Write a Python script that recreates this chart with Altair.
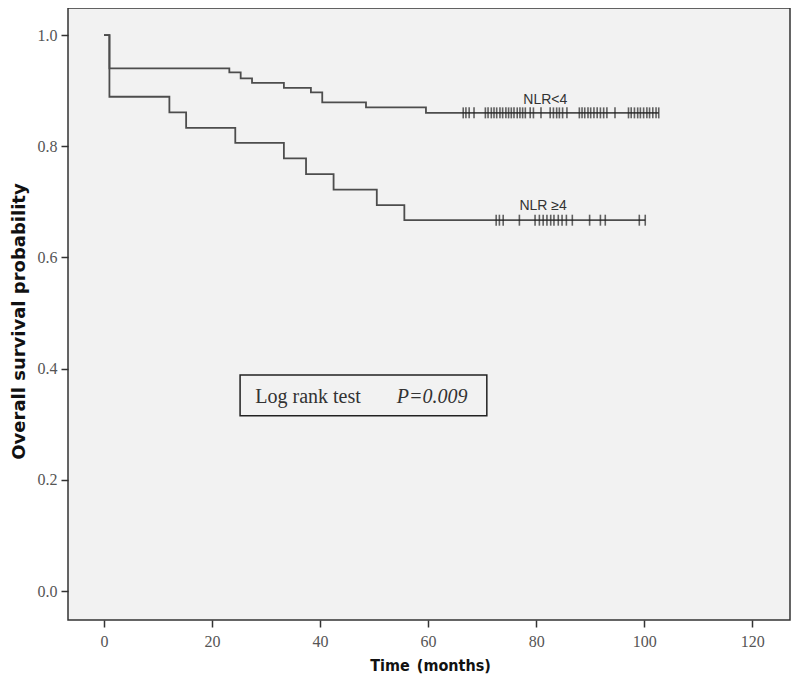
import altair as alt
import numpy as np
import pandas as pd

# ---- data ----
low_times = [0, 1, 23.2, 25.3, 27.4, 33.3, 38.3, 40.4, 48.5, 59.6]
low_surv = [1.0, 0.940, 0.933, 0.922, 0.914, 0.905, 0.897, 0.879, 0.870, 0.860]
low_censor = [66.5, 67.0, 67.6, 68.5, 70.6, 71.1, 71.7, 72.2, 72.7, 73.3, 73.8,
              74.4, 74.9, 75.4, 75.9, 76.5, 77.0, 77.5, 78.0, 78.9, 79.5, 80.9,
              82.6, 83.2, 83.8, 84.3, 84.9, 85.7, 88.0, 88.5, 89.0, 89.6, 90.1,
              90.7, 91.3, 91.9, 92.5, 93.1, 94.6, 97.1, 97.6, 98.2, 98.8, 99.3,
              99.9, 100.5, 101.0, 101.6, 102.2, 102.7]

high_times = [0, 1, 12.1, 15.2, 24.3, 33.3, 37.4, 42.5, 50.5, 55.6]
high_surv = [1.0, 0.889, 0.861, 0.833, 0.806, 0.778, 0.750, 0.722, 0.694, 0.667]
high_censor = [72.6, 73.2, 73.9, 76.9, 79.8, 80.6, 81.3, 82.0, 82.7, 83.3,
               84.1, 84.8, 85.6, 86.7, 89.9, 91.9, 92.8, 99.1, 100.2]

group_names = ["NLR<4", "NLR ≥4"]
label_x = [81.7, 81.3]
label_y = [0.884, 0.692]

x_ticks = [0, 20, 40, 60, 80, 100, 120]
y_ticks = [0.0, 0.2, 0.4, 0.6, 0.8, 1.0]

box_text = ["Log rank test", "P=0.009"]


def step_frame(times, surv, censor, name):
    t = list(times) + [max(censor)]
    s = list(surv) + [surv[-1]]
    return pd.DataFrame({"time": t, "surv": s, "group": name})


def censor_frame(times, surv, censor, name):
    idx = np.searchsorted(np.array(times), np.array(censor), side="right") - 1
    return pd.DataFrame({"time": censor, "surv": [surv[i] for i in idx], "group": name})


steps = pd.concat([
    step_frame(low_times, low_surv, low_censor, group_names[0]),
    step_frame(high_times, high_surv, high_censor, group_names[1]),
])
censors = pd.concat([
    censor_frame(low_times, low_surv, low_censor, group_names[0]),
    censor_frame(high_times, high_surv, high_censor, group_names[1]),
])
labels = pd.DataFrame({"time": label_x, "surv": label_y, "text": group_names})

x_scale = alt.Scale(domain=[-6.67, 127.0], nice=False, zero=False)
y_scale = alt.Scale(domain=[-0.052, 1.0486], nice=False, zero=False)

x_axis = alt.Axis(values=x_ticks, format="d", domain=False, grid=False,
                  tickSize=7, tickWidth=1.5, tickColor="#333",
                  labelFont="Liberation Sans Narrow", labelFontSize=16,
                  labelColor="#555", labelPadding=6,
                  titleFont="DejaVu Sans Condensed", titleFontSize=16,
                  titleFontWeight="bold", titleColor="#111",
                  titleX=362, titleY=45, titleBaseline="middle")
y_axis = alt.Axis(values=y_ticks, format=".1f", domain=False, grid=False,
                  tickSize=7, tickWidth=1.5, tickColor="#333",
                  labelFont="Liberation Sans Narrow", labelFontSize=16,
                  labelColor="#555", labelPadding=4,
                  titleFont="DejaVu Sans", titleFontSize=18,
                  titleFontWeight="bold", titleColor="#111",
                  titleX=-49, titleY=313, titleBaseline="middle")

lines = alt.Chart(steps).mark_line(
    interpolate="step-after", color="#4d4d4d", strokeWidth=1.8
).encode(
    x=alt.X("time:Q", scale=x_scale, axis=x_axis, title="Time\u2002(months)"),
    y=alt.Y("surv:Q", scale=y_scale, axis=y_axis, title="Overall survival probability"),
    detail="group:N",
)

ticks = alt.Chart(censors).mark_tick(
    orient="vertical", size=11, thickness=1.6, color="#222"
).encode(
    x=alt.X("time:Q", scale=x_scale),
    y=alt.Y("surv:Q", scale=y_scale),
)

group_labels = alt.Chart(labels).mark_text(
    font="Liberation Sans", fontSize=14, color="#333", align="center", baseline="middle"
).encode(
    x=alt.X("time:Q", scale=x_scale),
    y=alt.Y("surv:Q", scale=y_scale),
    text="text:N",
)

box_df = pd.DataFrame({"x": [25.19], "x2": [70.87], "y": [0.3885], "y2": [0.3153]})
box = alt.Chart(box_df).mark_rect(
    fill="#f2f2f2", stroke="#222", strokeWidth=1.5
).encode(
    x=alt.X("x:Q", scale=x_scale), x2="x2:Q",
    y=alt.Y("y:Q", scale=y_scale), y2="y2:Q",
)

txt_df = pd.DataFrame({"x": [28.0, 54.2], "y": [0.338, 0.338], "text": box_text})
log_text = alt.Chart(txt_df.iloc[[0]]).mark_text(
    font="Liberation Serif", fontSize=20, color="#333", align="left", baseline="alphabetic"
).encode(
    x=alt.X("x:Q", scale=x_scale), y=alt.Y("y:Q", scale=y_scale), text="text:N"
)
p_text = alt.Chart(txt_df.iloc[[1]]).mark_text(
    font="Liberation Serif", fontSize=20, fontStyle="italic", color="#333",
    align="left", baseline="alphabetic"
).encode(
    x=alt.X("x:Q", scale=x_scale), y=alt.Y("y:Q", scale=y_scale), text="text:N"
)

chart = alt.layer(lines, ticks, group_labels, box, log_text, p_text).properties(
    width=722, height=612,
    autosize=alt.AutoSizeParams(type="none"),
    padding={"left": 60, "top": 0, "right": 2, "bottom": 56},
    background="white",
).configure_view(
    stroke="#333", strokeWidth=1.5, fill="#f2f2f2"
)

chart.save("out.html", embed_options={"renderer": "svg", "actions": False})
